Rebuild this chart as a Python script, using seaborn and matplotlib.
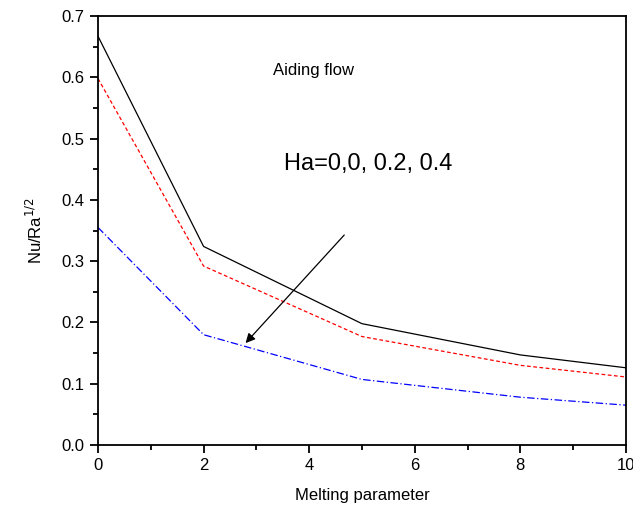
import matplotlib
matplotlib.use("Agg")
import matplotlib.pyplot as plt
import pandas as pd
import seaborn as sns
from matplotlib.ticker import MultipleLocator

sns.set_style("ticks")
plt.rcParams["font.family"] = ["Liberation Sans", "DejaVu Sans"]
plt.rcParams["text.color"] = "black"
plt.rcParams["axes.labelcolor"] = "black"
plt.rcParams["xtick.color"] = "black"
plt.rcParams["ytick.color"] = "black"
plt.rcParams["axes.edgecolor"] = "black"

melting = [0, 2, 5, 8, 10]
nu_ha0 = [0.667, 0.324, 0.198, 0.147, 0.126]
nu_ha02 = [0.598, 0.292, 0.177, 0.130, 0.111]
nu_ha04 = [0.355, 0.180, 0.107, 0.078, 0.065]
series = ["Ha=0", "Ha=0.2", "Ha=0.4"]

df = pd.DataFrame({
    "x": melting * 3,
    "y": nu_ha0 + nu_ha02 + nu_ha04,
    "Ha": [s for s in series for _ in melting],
})

fig = plt.figure(figsize=(6.33, 5.08), dpi=100)
ax = fig.add_axes([0.1548, 0.124, 0.834, 0.8445])

sns.lineplot(data=df, x="x", y="y", hue="Ha", style="Ha",
             palette=["black", "red", "blue"],
             dashes={"Ha=0": "", "Ha=0.2": (3, 2), "Ha=0.4": (6, 2, 1, 2)},
             linewidth=0.9, legend=False, ax=ax)

ax.set_xlim(0, 10)
ax.set_ylim(0, 0.7)
ax.xaxis.set_major_locator(MultipleLocator(2))
ax.xaxis.set_minor_locator(MultipleLocator(1))
ax.yaxis.set_major_locator(MultipleLocator(0.1))
ax.yaxis.set_minor_locator(MultipleLocator(0.05))
ax.yaxis.set_major_formatter(plt.FormatStrFormatter("%.1f"))
ax.tick_params(which="major", direction="out", length=6, width=1.3, labelsize=12)
ax.tick_params(which="minor", direction="out", length=3.5, width=1.3)
for sp in ax.spines.values():
    sp.set_linewidth(1.3)

ax.set_xlabel("Melting parameter", fontsize=12, labelpad=11)
ax.set_ylabel("Nu/Ra$^{1/2}$", fontsize=12, labelpad=12)

ax.text(3.31, 0.603, "Aiding flow", fontsize=12)
ax.text(3.52, 0.449, "Ha=0,0, 0.2, 0.4", fontsize=17)
ax.annotate("", xy=(2.76, 0.163), xytext=(4.70, 0.346),
            arrowprops=dict(arrowstyle="-|>", color="black", lw=0.9,
                            mutation_scale=14))

fig.savefig("out.png", dpi=100)
